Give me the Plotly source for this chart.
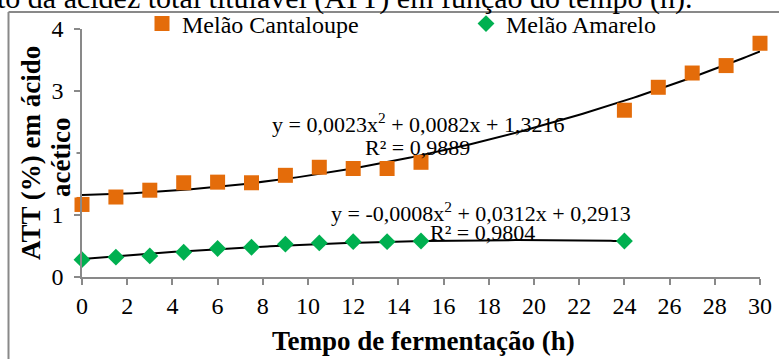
import numpy as np
import plotly.graph_objects as go

# ---- data ----
tempo_cantaloupe = [0, 1.5, 3, 4.5, 6, 7.5, 9, 10.5, 12, 13.5, 15, 24, 25.5, 27, 28.5, 30]
att_cantaloupe = [1.17, 1.29, 1.40, 1.52, 1.53, 1.52, 1.64, 1.77, 1.75, 1.75, 1.85, 2.69, 3.06, 3.29, 3.41, 3.77]

tempo_amarelo = [0, 1.5, 3, 4.5, 6, 7.5, 9, 10.5, 12, 13.5, 15, 24]
att_amarelo = [0.28, 0.32, 0.34, 0.40, 0.46, 0.48, 0.53, 0.55, 0.57, 0.57, 0.58, 0.58]

# polynomial trend coefficients as reported on the chart (a, b, c)
coef_cantaloupe = [0.0023, 0.0082, 1.3216]
coef_amarelo = [-0.0008, 0.0312, 0.2913]

eq_cantaloupe = "y = 0,0023x<sup>2</sup> + 0,0082x + 1,3216"
r2_cantaloupe = "R² = 0,9889"
eq_amarelo = "y = -0,0008x<sup>2</sup> + 0,0312x + 0,2913"
r2_amarelo = "R² = 0,9804"

x_ticks = list(range(0, 31, 2))
y_ticks = [0, 1, 2, 3, 4]

FONT = "Liberation Serif"
ORANGE = "#E46C0A"
GREEN = "#00B050"
GREY = "#898989"

xc = np.linspace(0, max(tempo_cantaloupe), 200)
xa = np.linspace(0, max(tempo_amarelo), 200)

fig = go.Figure()
fig.add_trace(go.Scatter(x=xc, y=np.polyval(coef_cantaloupe, xc), mode="lines",
                         line=dict(color="black", width=2), showlegend=False, hoverinfo="skip"))
fig.add_trace(go.Scatter(x=xa, y=np.polyval(coef_amarelo, xa), mode="lines",
                         line=dict(color="black", width=2), showlegend=False, hoverinfo="skip"))
fig.add_trace(go.Scatter(x=tempo_cantaloupe, y=att_cantaloupe, mode="markers", name="Melão Cantaloupe",
                         marker=dict(symbol="square", size=15, color=ORANGE), legend="legend",
                         cliponaxis=False))
fig.add_trace(go.Scatter(x=tempo_amarelo, y=att_amarelo, mode="markers", name="Melão Amarelo",
                         marker=dict(symbol="diamond", size=13, color=GREEN), legend="legend2",
                         cliponaxis=False))

W, H = 779, 359
L, R, T, B = 82, 19, 29, 82
pw, ph = W - L - R, H - T - B

def px(x):
    return (x - L) / pw

def py(y):
    return (H - B - y) / ph

frame_line = dict(color=GREY, width=2)
fig.update_layout(
    width=W, height=H,
    margin=dict(l=L, r=R, t=T, b=B, autoexpand=False),
    paper_bgcolor="white", plot_bgcolor="white",
    font=dict(family=FONT, size=24, color="black"),
    legend=dict(x=px(142), y=py(24), xanchor="left", yanchor="middle",
                bgcolor="rgba(0,0,0,0)", font=dict(size=24), itemwidth=30),
    legend2=dict(x=px(466), y=py(24), xanchor="left", yanchor="middle",
                 bgcolor="rgba(0,0,0,0)", font=dict(size=24), itemwidth=30),
    xaxis=dict(range=[0, 30], tickvals=x_ticks, ticktext=[str(v) for v in x_ticks],
               showline=True, linecolor=GREY, linewidth=1.5, ticks="outside", ticklen=6,
               tickcolor=GREY, tickwidth=1.5, showgrid=False, zeroline=False,
               ticklabelstandoff=0, tickfont=dict(size=24)),
    yaxis=dict(range=[0, 4], tickvals=y_ticks, ticktext=[str(v) for v in y_ticks],
               showline=True, linecolor=GREY, linewidth=1.5, ticks="outside", ticklen=6,
               tickcolor=GREY, tickwidth=1.5, showgrid=False, zeroline=False,
               ticklabelstandoff=6, tickfont=dict(size=24)),
    shapes=[
        dict(type="line", xref="paper", yref="paper", x0=px(8.5), x1=px(8.5), y0=py(359), y1=py(12),
             line=frame_line),
        dict(type="line", xref="paper", yref="paper", x0=px(8.5), x1=px(779), y0=py(12), y1=py(12),
             line=frame_line),
    ],
)

ann = [
    dict(text="to da acidez total titulável (ATT) em função do tempo (h).", x=px(695), y=py(-2),
         xanchor="right", yanchor="middle", font=dict(size=30)),
    dict(text="<b>Tempo de fermentação (h)</b>", x=px(423), y=py(341),
         xanchor="center", yanchor="middle", font=dict(size=27)),
    dict(text="<b>ATT (%) em ácido</b>", x=px(31), y=py(153), textangle=-90,
         xanchor="center", yanchor="middle", font=dict(size=27)),
    dict(text="<b>acético</b>", x=px(61), y=py(158), textangle=-90,
         xanchor="center", yanchor="middle", font=dict(size=27), bgcolor="white", borderpad=0),
    dict(text=eq_cantaloupe, x=px(418), y=py(123), xanchor="center", yanchor="middle", font=dict(size=22)),
    dict(text=r2_cantaloupe, x=px(417), y=py(147), xanchor="center", yanchor="middle", font=dict(size=22)),
    dict(text=eq_amarelo, x=px(481), y=py(212), xanchor="center", yanchor="middle", font=dict(size=22)),
    dict(text=r2_amarelo, x=px(482), y=py(233), xanchor="center", yanchor="middle", font=dict(size=22)),
]
for a in ann:
    a.update(xref="paper", yref="paper", showarrow=False)
fig.update_layout(annotations=ann)

fig.write_html("out.html", config={"displayModeBar": False},
               post_script="document.body.style.margin='0';")
